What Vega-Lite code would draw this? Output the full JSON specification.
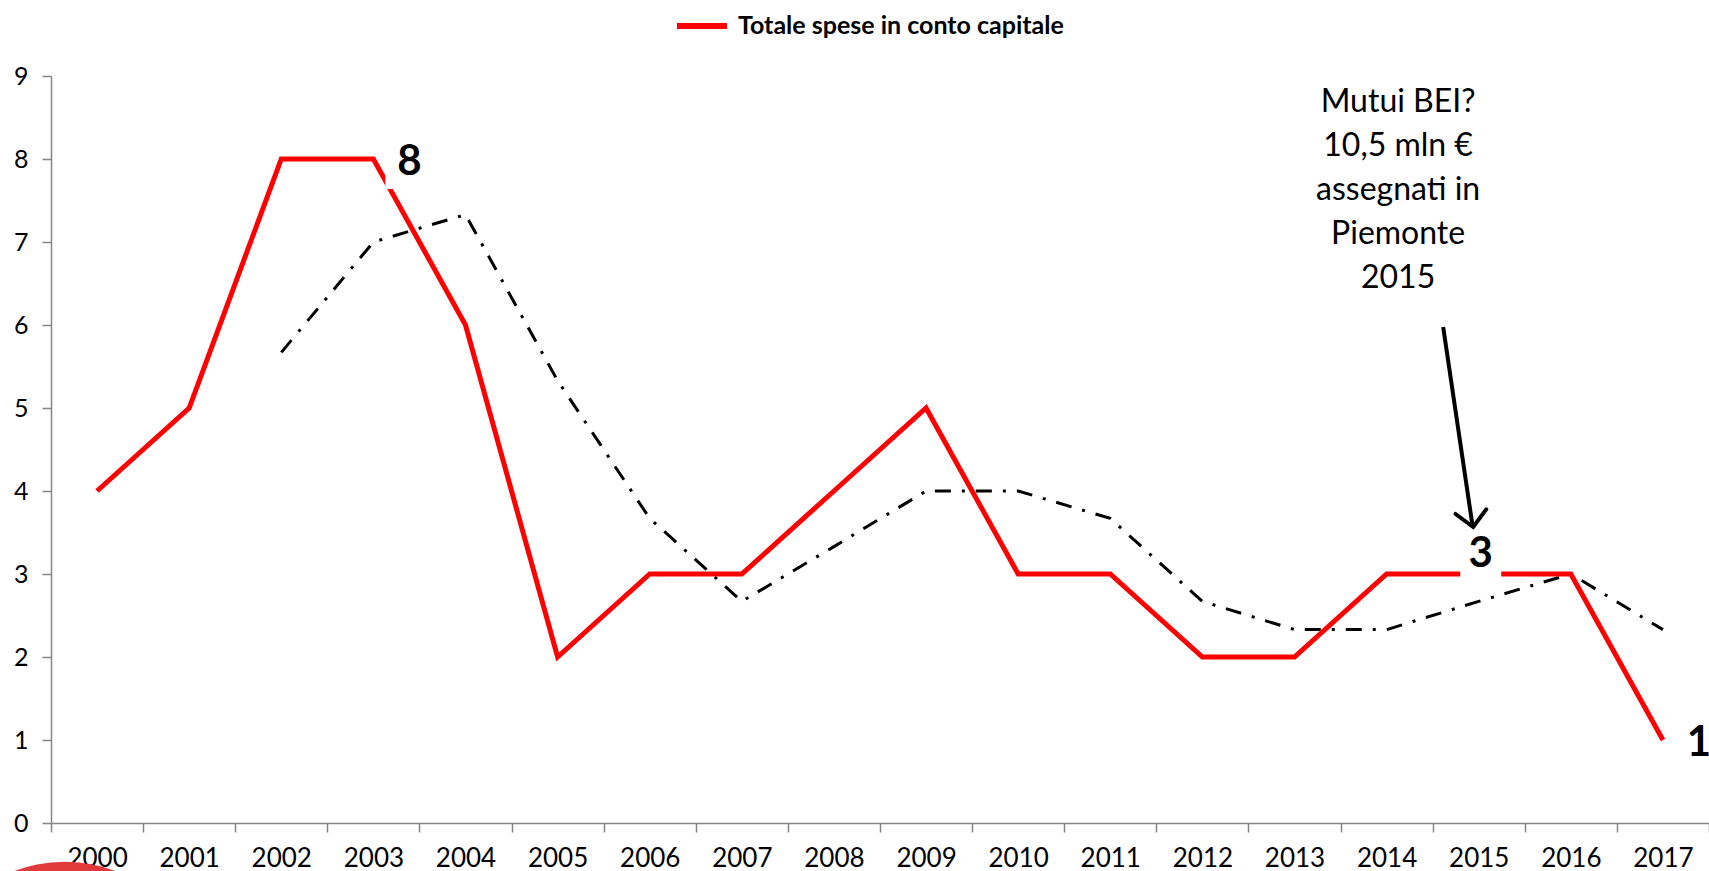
{
  "$schema": "https://vega.github.io/schema/vega-lite/v6.json",
  "autosize": {"type": "none"},
  "padding": {"left": 51, "top": 76, "right": 0, "bottom": 48},
  "width": 1658,
  "height": 747,
  "background": "white",
  "config": {
    "view": {"stroke": null},
    "font": "Lato",
    "axis": {"grid": false, "domainColor": "#868686", "domainWidth": 1.5, "tickColor": "#868686", "tickWidth": 1.5, "tickSize": 9, "labelFont": "Lato", "labelFontSize": 26, "labelColor": "#000000", "title": null}
  },
  "datasets": {
    "serie": [
      {"anno": "2000", "spesa": 4, "media": null, "etichetta": null},
      {"anno": "2001", "spesa": 5, "media": null, "etichetta": null},
      {"anno": "2002", "spesa": 8, "media": 5.67, "etichetta": null},
      {"anno": "2003", "spesa": 8, "media": 7.0, "etichetta": "8"},
      {"anno": "2004", "spesa": 6, "media": 7.33, "etichetta": null},
      {"anno": "2005", "spesa": 2, "media": 5.33, "etichetta": null},
      {"anno": "2006", "spesa": 3, "media": 3.67, "etichetta": null},
      {"anno": "2007", "spesa": 3, "media": 2.67, "etichetta": null},
      {"anno": "2008", "spesa": 4, "media": 3.33, "etichetta": null},
      {"anno": "2009", "spesa": 5, "media": 4.0, "etichetta": null},
      {"anno": "2010", "spesa": 3, "media": 4.0, "etichetta": null},
      {"anno": "2011", "spesa": 3, "media": 3.67, "etichetta": null},
      {"anno": "2012", "spesa": 2, "media": 2.67, "etichetta": null},
      {"anno": "2013", "spesa": 2, "media": 2.33, "etichetta": null},
      {"anno": "2014", "spesa": 3, "media": 2.33, "etichetta": null},
      {"anno": "2015", "spesa": 3, "media": 2.67, "etichetta": "3"},
      {"anno": "2016", "spesa": 3, "media": 3.0, "etichetta": null},
      {"anno": "2017", "spesa": 1, "media": 2.33, "etichetta": "1"}
    ],
    "nota": [
      {"x": 2014.125, "y": 8.566, "testo": "Mutui BEI?\n10,5 mln €\nassegnati in\nPiemonte\n2015"}
    ],
    "freccia": [
      {"x": 2014.614, "y": 5.976, "x2": 2014.93, "y2": 3.6}
    ],
    "punta": [
      {"x": 2014.94, "y": 3.566}
    ],
    "cerchio": [
      {"x": 1999.65, "y": -2.19}
    ]
  },
  "layer": [
    {
      "encoding": {
        "x": {"field": "anno", "type": "ordinal", "scale": {"type": "band", "paddingInner": 0, "paddingOuter": 0},
              "axis": {"labelAngle": 0, "tickBand": "extent", "labelPadding": 13, "labelBaseline": "top", "labelFont": "Lato", "labelFontSize": 26, "labelColor": "#000000", "labelFontWeight": "normal"}}
      },
      "layer": [
        {
          "data": {"name": "serie"},
          "transform": [{"filter": "datum.media != null"}],
          "mark": {"type": "line", "color": "#000000", "strokeWidth": 3, "strokeDash": [16, 11, 3, 11]},
          "encoding": {
            "y": {"field": "media", "type": "quantitative", "scale": {"domain": [0, 9], "nice": false},
                  "axis": {"values": [0,1,2,3,4,5,6,7,8,9], "format": "d", "labelPadding": 14, "labelFont": "Lato", "labelFontSize": 25, "labelColor": "#000000", "labelFontWeight": "normal"}}
          }
        },
        {
          "data": {"name": "serie"},
          "mark": {"type": "line", "strokeWidth": 5, "strokeJoin": "miter"},
          "encoding": {
            "y": {"field": "spesa", "type": "quantitative", "scale": {"domain": [0, 9], "nice": false}},
            "color": {"datum": "Totale spese in conto capitale", "type": "nominal",
                      "scale": {"range": ["#ff0000"]},
                      "legend": {"orient": "none", "legendX": 623, "legendY": -78, "title": null, "padding": 0,
                                 "symbolType": "stroke", "symbolSize": 2500, "symbolStrokeWidth": 6,
                                 "labelFont": "Lato", "labelFontSize": 25, "labelFontWeight": "bold", "labelLimit": 0,
                                 "labelColor": "#000000", "labelOffset": 8}}
          }
        },
        {
          "data": {"name": "serie"},
          "transform": [{"filter": "datum.anno == '2003'"}],
          "mark": {"type": "point", "shape": "square", "filled": true, "color": "#ffffff", "opacity": 1, "size": 2116, "xOffset": 35, "yOffset": 7},
          "encoding": {"y": {"field": "spesa", "type": "quantitative"}}
        },
        {
          "data": {"name": "serie"},
          "transform": [{"filter": "datum.anno == '2015'"}],
          "mark": {"type": "point", "shape": "square", "filled": true, "color": "#ffffff", "opacity": 1, "size": 1681, "xOffset": 2, "yOffset": -17},
          "encoding": {"y": {"field": "spesa", "type": "quantitative"}}
        },
        {
          "data": {"name": "serie"},
          "transform": [{"filter": "datum.anno == '2003' || datum.anno == '2017'"}],
          "mark": {"type": "text", "font": "Lato", "fontWeight": "bold", "fontSize": 42, "color": "#000000", "align": "center", "baseline": "middle", "dx": 36, "dy": 3},
          "encoding": {"y": {"field": "spesa", "type": "quantitative"}, "text": {"field": "etichetta"}}
        },
        {
          "data": {"name": "serie"},
          "transform": [{"filter": "datum.anno == '2015'"}],
          "mark": {"type": "text", "font": "Lato", "fontWeight": "bold", "fontSize": 42, "color": "#000000", "align": "center", "baseline": "middle", "dx": 2, "dy": -20},
          "encoding": {"y": {"field": "spesa", "type": "quantitative"}, "text": {"field": "etichetta"}}
        }
      ]
    },
    {
      "layer": [
        {
          "data": {"name": "cerchio"},
          "mark": {"type": "point", "shape": "circle", "filled": true, "color": "#e03a3a", "opacity": 1, "size": 81796},
          "encoding": {
            "x": {"field": "x", "type": "quantitative", "scale": {"domain": [1999.5, 2017.5], "nice": false, "zero": false}, "axis": null},
            "y": {"field": "y", "type": "quantitative", "scale": {"domain": [0, 9], "nice": false}}
          }
        },
        {
          "data": {"name": "nota"},
          "mark": {"type": "text", "font": "Lato", "fontSize": 32, "color": "#000000", "align": "center", "baseline": "alphabetic", "lineBreak": "\n", "lineHeight": 44},
          "encoding": {
            "x": {"field": "x", "type": "quantitative"},
            "y": {"field": "y", "type": "quantitative"},
            "text": {"field": "testo"}
          }
        },
        {
          "data": {"name": "freccia"},
          "mark": {"type": "rule", "color": "#000000", "strokeWidth": 4},
          "encoding": {
            "x": {"field": "x", "type": "quantitative"},
            "y": {"field": "y", "type": "quantitative"},
            "x2": {"field": "x2"},
            "y2": {"field": "y2"}
          }
        },
        {
          "data": {"name": "punta"},
          "mark": {"type": "point", "shape": "M-1,-1L0,0L1,-1", "filled": false, "color": "#000000", "strokeWidth": 4, "opacity": 1, "size": 961, "angle": 351.5, "strokeCap": "round", "strokeJoin": "miter"},
          "encoding": {
            "x": {"field": "x", "type": "quantitative"},
            "y": {"field": "y", "type": "quantitative"}
          }
        }
      ]
    }
  ],
  "resolve": {"scale": {"x": "independent"}}
}
